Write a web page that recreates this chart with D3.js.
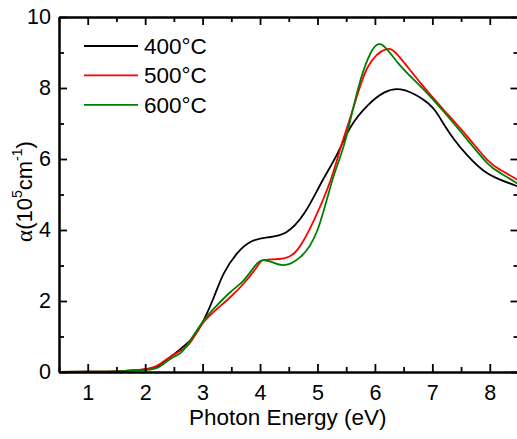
<!DOCTYPE html>
<html>
<head>
<meta charset="utf-8">
<script src="https://cdn.jsdelivr.net/npm/d3@7"></script>
<style>
  body { margin: 0; background: #fff; }
  text { font-family: "Liberation Sans", Arial, sans-serif; fill: #000; }
</style>
</head>
<body>
<script>
// absorption coefficient vs photon energy
const energy400 = [0.5, 1.0, 1.5, 2.0, 2.25, 2.5, 2.82, 3.02, 3.2, 3.37, 3.6, 3.84, 4.13, 4.45, 4.77, 5.06, 5.35, 5.58, 5.88, 6.16, 6.45, 6.8, 7.03, 7.2, 7.38, 7.61, 7.9, 8.19, 8.5];
const alpha400 = [0.0, 0.01, 0.02, 0.07, 0.2, 0.5, 0.95, 1.46, 2.12, 2.78, 3.34, 3.67, 3.79, 3.93, 4.47, 5.31, 6.16, 6.91, 7.52, 7.87, 7.96, 7.72, 7.4, 6.98, 6.55, 6.1, 5.66, 5.41, 5.22];

const energy500 = [0.5, 1.0, 1.5, 2.0, 2.25, 2.5, 2.75, 2.96, 3.2, 3.49, 3.72, 3.95, 4.04, 4.19, 4.42, 4.65, 4.94, 5.23, 5.41, 5.64, 5.88, 6.19, 6.43, 6.8, 7.2, 7.61, 7.96, 8.19, 8.5];
const alpha500 = [0.0, 0.01, 0.02, 0.08, 0.22, 0.49, 0.76, 1.28, 1.7, 2.12, 2.5, 2.97, 3.14, 3.17, 3.2, 3.44, 4.28, 5.41, 6.35, 7.52, 8.6, 9.09, 8.87, 8.13, 7.38, 6.63, 5.97, 5.69, 5.4];

const energy600 = [0.5, 1.0, 1.5, 2.0, 2.25, 2.5, 2.67, 2.96, 3.2, 3.49, 3.72, 3.95, 4.07, 4.2, 4.42, 4.71, 5.0, 5.26, 5.47, 5.7, 5.93, 6.14, 6.43, 6.8, 7.2, 7.61, 7.96, 8.19, 8.5];
const alpha600 = [0.0, 0.01, 0.02, 0.06, 0.15, 0.43, 0.62, 1.32, 1.79, 2.26, 2.59, 3.06, 3.15, 3.1, 3.01, 3.25, 4.0, 5.41, 6.44, 7.94, 9.0, 9.2, 8.65, 8.04, 7.33, 6.54, 5.88, 5.6, 5.29];

const seriesNames = ["400°C", "500°C", "600°C"];
const seriesColors = ["#000000", "#ff0000", "#008000"];

const xMajor = [1, 2, 3, 4, 5, 6, 7, 8];
const xMinor = [0.5, 1.5, 2.5, 3.5, 4.5, 5.5, 6.5, 7.5, 8.5];
const yMajor = [0, 2, 4, 6, 8, 10];
const yMinor = [1, 3, 5, 7, 9];

const width = 517, height = 439;
const plotLeft = 59, plotRight = 518.5, plotTop = 17, plotBottom = 372;

const svg = d3.select("body").append("svg")
    .attr("width", width)
    .attr("height", height);

const x = d3.scaleLinear().domain([0.5, 8.5]).range([plotLeft, plotRight]);
const y = d3.scaleLinear().domain([0, 10]).range([plotBottom, plotTop]);

const series = [
    energy400.map((e, i) => ({e: e, a: alpha400[i]})),
    energy500.map((e, i) => ({e: e, a: alpha500[i]})),
    energy600.map((e, i) => ({e: e, a: alpha600[i]}))
];

const line = d3.line()
    .x(d => x(d.e))
    .y(d => y(d.a))
    .curve(d3.curveNatural);

svg.append("clipPath").attr("id", "plot-clip")
    .append("rect")
    .attr("x", plotLeft).attr("y", plotTop)
    .attr("width", plotRight - plotLeft).attr("height", plotBottom - plotTop);

svg.append("g").attr("clip-path", "url(#plot-clip)")
    .selectAll("path")
    .data(series)
    .enter()
    .append("path")
    .attr("fill", "none")
    .attr("stroke", (d, i) => seriesColors[i])
    .attr("stroke-width", 1.8)
    .attr("d", line);

// axes, ticks all point inward
function styleAxis(g) {
    g.select(".domain").attr("stroke-width", 2).attr("stroke", "#000");
    g.selectAll(".tick line").attr("stroke-width", 1.8).attr("stroke", "#000");
}

const tickFont = "21.5px";

svg.append("g")
    .attr("transform", `translate(0,${plotBottom})`)
    .call(d3.axisBottom(x).tickValues(xMajor).tickSizeInner(-8).tickSizeOuter(0).tickPadding(13).tickFormat(d3.format("d")))
    .call(styleAxis)
    .call(g => g.selectAll("text").attr("font-size", tickFont).attr("font-family", "Liberation Sans, Arial, sans-serif"));

svg.append("g")
    .attr("transform", `translate(0,${plotBottom})`)
    .call(d3.axisBottom(x).tickValues(xMinor).tickSizeInner(-5).tickSizeOuter(0).tickFormat(""))
    .call(styleAxis);

svg.append("g")
    .attr("transform", `translate(0,${plotTop})`)
    .call(d3.axisTop(x).tickValues(xMajor).tickSizeInner(-8).tickSizeOuter(0).tickFormat(""))
    .call(styleAxis);

svg.append("g")
    .attr("transform", `translate(0,${plotTop})`)
    .call(d3.axisTop(x).tickValues(xMinor).tickSizeInner(-5).tickSizeOuter(0).tickFormat(""))
    .call(styleAxis);

svg.append("g")
    .attr("transform", `translate(${plotLeft},0)`)
    .call(d3.axisLeft(y).tickValues(yMajor).tickSizeInner(-8).tickSizeOuter(0).tickPadding(8).tickFormat(d3.format("d")))
    .call(styleAxis)
    .call(g => g.selectAll("text").attr("font-size", tickFont).attr("font-family", "Liberation Sans, Arial, sans-serif"));

svg.append("g")
    .attr("transform", `translate(${plotLeft},0)`)
    .call(d3.axisLeft(y).tickValues(yMinor).tickSizeInner(-5).tickSizeOuter(0).tickFormat(""))
    .call(styleAxis);

svg.append("g")
    .attr("transform", `translate(${plotRight},0)`)
    .call(d3.axisRight(y).tickValues(yMajor).tickSizeInner(-8).tickSizeOuter(0).tickFormat(""))
    .call(styleAxis);

svg.append("g")
    .attr("transform", `translate(${plotRight},0)`)
    .call(d3.axisRight(y).tickValues(yMinor).tickSizeInner(-5).tickSizeOuter(0).tickFormat(""))
    .call(styleAxis);

// axis titles
svg.append("text")
    .attr("x", (plotLeft + plotRight) / 2 - 1)
    .attr("y", 425)
    .attr("text-anchor", "middle")
    .attr("font-size", "22.5px")
    .text("Photon Energy (eV)");

const ylab = svg.append("text")
    .attr("transform", `translate(32,${(plotTop + plotBottom) / 2 - 3}) rotate(-90)`)
    .attr("text-anchor", "middle")
    .attr("font-size", "22px");
ylab.append("tspan").attr("font-family", "Liberation Serif, serif").attr("font-size", "23px").text("α");
ylab.append("tspan").text("(10");
ylab.append("tspan").attr("font-size", "14px").attr("dy", -10).text("5");
ylab.append("tspan").attr("dy", 10).text("cm");
ylab.append("tspan").attr("font-size", "14px").attr("dy", -10).text("-1");
ylab.append("tspan").attr("dy", 10).text(")");

// legend
const legend = svg.append("g");
seriesNames.forEach((name, i) => {
    const ly = 46 + i * 29.4;
    legend.append("line")
        .attr("x1", 84).attr("x2", 138)
        .attr("y1", ly).attr("y2", ly)
        .attr("stroke", seriesColors[i])
        .attr("stroke-width", 1.8);
    legend.append("text")
        .attr("x", 144)
        .attr("y", ly + 8)
        .attr("font-size", "22.5px")
        .text(name);
});
</script>
</body>
</html>
